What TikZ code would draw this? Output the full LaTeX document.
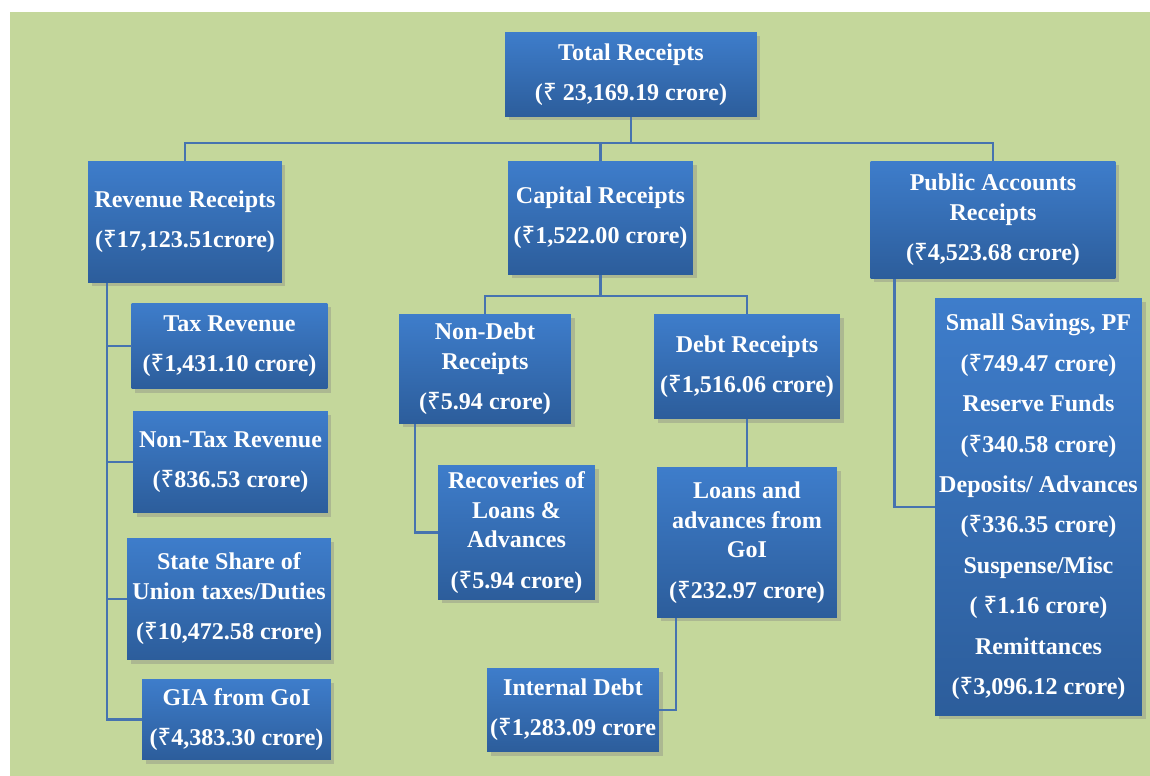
\documentclass[tikz,border=0pt]{standalone}
\usepackage{fontspec}
\setmainfont{Liberation Serif}
\newfontfamily\rupfont{Noto Sans}
\usepackage{xcolor}
\usetikzlibrary{positioning,shadows}

\definecolor{bggreen}{RGB}{196,215,155}
\definecolor{boxtop}{RGB}{62,125,203}
\definecolor{boxbot}{RGB}{44,93,155}
\definecolor{linkblue}{RGB}{70,115,175}
\newcommand{\rupee}{{\rupfont ₹}}

\begin{document}
\begin{tikzpicture}[x=0.02cm, y=-0.02cm,
    box/.style={top color=boxtop, bottom color=boxbot, text=white, align=center,
        inner sep=1pt, outer sep=0pt, font=\fontsize{13.7}{16.8}\selectfont\bfseries,
        drop shadow={shadow xshift=2pt, shadow yshift=-2pt, opacity=0.35}},
    link/.style={draw=linkblue, line width=1.2pt}]

\useasboundingbox (0,0) rectangle (1150,776);
\fill[white] (0,0) rectangle (1150,776);
\fill[bggreen] (10,12) rectangle (1150,776);

% top level
\node[box, minimum width=5.04cm, minimum height=1.70cm] (total) at (631,74.5)
    {Total Receipts\\[6.2pt](\rupee\ 23,169.19 crore)};

\node[box, minimum width=3.88cm, minimum height=2.44cm] (revenue) at (185,222)
    {Revenue Receipts\\[6.2pt](\rupee17,123.51crore)};
\node[box, minimum width=3.70cm, minimum height=2.28cm] (capital) at (600.5,218)
    {Capital Receipts\\[6.2pt](\rupee1,522.00 crore)};
\node[box, minimum width=4.90cm, minimum height=2.36cm] (public) at (993,220)
    {Public Accounts\\Receipts\\[6.2pt](\rupee4,523.68 crore)};

% revenue side
\node[box, minimum width=3.92cm, minimum height=1.72cm] (tax) at (229.5,346)
    {Tax Revenue\\[6.2pt](\rupee1,431.10 crore)};
\node[box, minimum width=3.90cm, minimum height=2.04cm] (nontax) at (230.5,462)
    {Non-Tax Revenue\\[6.2pt](\rupee836.53 crore)};
\node[box, minimum width=4.08cm, minimum height=2.44cm] (stateshare) at (229,599)
    {State Share of\\Union taxes/Duties\\[6.2pt](\rupee10,472.58 crore)};
\node[box, minimum width=3.78cm, minimum height=1.62cm] (gia) at (236.5,719.5)
    {GIA from GoI\\[6.2pt](\rupee4,383.30 crore)};

% capital side
\node[box, minimum width=3.44cm, minimum height=2.20cm] (nondebt) at (485,369)
    {Non-Debt\\Receipts\\[6.2pt](\rupee5.94 crore)};
\node[box, minimum width=3.72cm, minimum height=2.10cm] (debt) at (747,366.5)
    {Debt Receipts\\[6.2pt](\rupee1,516.06 crore)};
\node[box, minimum width=3.14cm, minimum height=2.70cm] (recoveries) at (516.5,532.5)
    {Recoveries of\\Loans \&\\Advances\\[6.2pt](\rupee5.94 crore)};
\node[box, minimum width=3.60cm, minimum height=3.02cm] (loans) at (747,542.5)
    {Loans and\\advances from\\GoI\\[6.2pt](\rupee232.97 crore)};
\node[box, minimum width=3.44cm, minimum height=1.68cm] (internal) at (573,710)
    {Internal Debt\\[6.2pt](\rupee1,283.09 crore};

% public accounts side
\node[box, minimum width=4.14cm, minimum height=8.36cm] (pubdetail) at (1038.5,507)
    {Small Savings, PF\\[6.2pt](\rupee749.47 crore)\\[6.2pt]Reserve Funds\\[6.2pt]%
     (\rupee340.58 crore)\\[6.2pt]Deposits/ Advances\\[6.2pt](\rupee336.35 crore)\\[6.2pt]%
     Suspense/Misc\\[6.2pt]( \rupee1.16 crore)\\[6.2pt]Remittances\\[6.2pt](\rupee3,096.12 crore)};

% connectors
\draw[link] (total.south) -- ++(0,26) -| (revenue.north);
\draw[link] (total.south) -- ++(0,26) -| (capital.north);
\draw[link] (total.south) -- ++(0,26) -| (public.north);

\draw[link] ([xshift=0.38cm]revenue.south west) |- (tax.west);
\draw[link] ([xshift=0.38cm]revenue.south west) |- (nontax.west);
\draw[link] ([xshift=0.38cm]revenue.south west) |- (stateshare.west);
\draw[link] ([xshift=0.38cm]revenue.south west) |- (gia.west);

\draw[link] (capital.south) -- ++(0,21) -| (nondebt.north);
\draw[link] (capital.south) -- ++(0,21) -| (debt.north);
\draw[link] ([xshift=0.32cm]nondebt.south west) |- (recoveries.west);
\draw[link] (debt.south) -- (loans.north);
\draw[link] ([xshift=0.38cm]loans.south west) |- (internal.east);

\draw[link] ([xshift=0.48cm]public.south west) |- (pubdetail.west);

\end{tikzpicture}
\end{document}
